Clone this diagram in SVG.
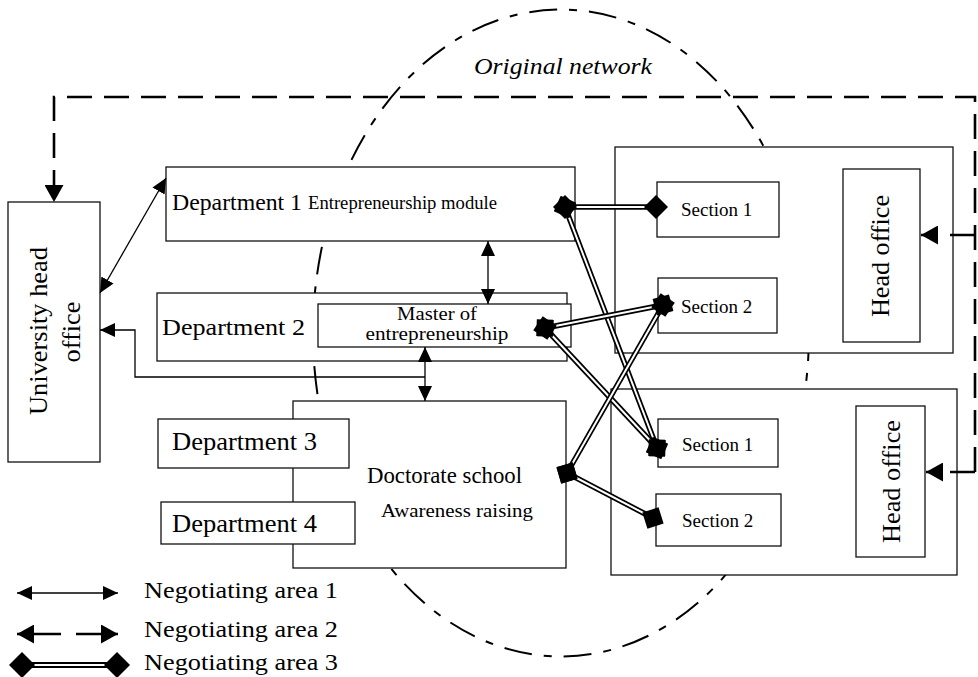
<svg xmlns="http://www.w3.org/2000/svg" width="978" height="677" viewBox="0 0 978 677">
  <style>
    text { font-family: "Liberation Serif", "Times New Roman", serif; fill: #000; }
    .box { fill: #fff; stroke: #111; stroke-width: 1.3; }
    .thin { fill: none; stroke: #000; stroke-width: 1.3; }
    .dash { fill: none; stroke: #000; stroke-width: 2.6; stroke-dasharray: 25 12; }
    .outer { fill: none; stroke: #000; stroke-width: 5.5; }
    .inner { fill: none; stroke: #fff; stroke-width: 2; }
    .ends { fill: none; stroke: none; marker-start: url(#dia); marker-end: url(#dia); }
    .net { fill: none; stroke: #000; stroke-width: 2; stroke-dasharray: 28 12 8 12; }
  </style>
  <defs>
    <marker id="ah" viewBox="0 0 15 14" refX="15" refY="7" markerWidth="15" markerHeight="14" markerUnits="userSpaceOnUse" orient="auto-start-reverse">
      <path d="M0,0 L15,7 L0,14 z" fill="#000"/>
    </marker>
    <marker id="ahd" viewBox="0 0 17 19" refX="17" refY="9.5" markerWidth="17" markerHeight="19" markerUnits="userSpaceOnUse" orient="auto-start-reverse">
      <path d="M0,0 L17,9.5 L0,19 z" fill="#000"/>
    </marker>
    <marker id="dia" viewBox="0 0 24 24" refX="12" refY="12" markerWidth="24" markerHeight="24" markerUnits="userSpaceOnUse" orient="auto">
      <path d="M0,12 L12,0 L24,12 L12,24 z" fill="#000"/>
    </marker>
    <marker id="diaL" viewBox="0 0 26 26" refX="13" refY="13" markerWidth="26" markerHeight="26" markerUnits="userSpaceOnUse" orient="auto">
      <path d="M0,13 L13,0 L26,13 L13,26 z" fill="#000"/>
    </marker>
  </defs>

  <rect width="978" height="677" fill="#fff"/>

  <!-- original network boundary -->
  <g id="original-network">
    <ellipse class="net" cx="561" cy="333" rx="248" ry="323.5"/>
    <text x="474" y="74" font-size="23" font-style="italic" textLength="178" lengthAdjust="spacingAndGlyphs">Original network</text>
  </g>

  <g id="university-head-office">
    <rect class="box" x="8" y="202" width="92" height="260"/>
    <text transform="translate(47,331) rotate(-90)" font-size="25" text-anchor="middle" textLength="168" lengthAdjust="spacingAndGlyphs">University head</text>
    <text transform="translate(80,332) rotate(-90)" font-size="25" text-anchor="middle" textLength="61" lengthAdjust="spacingAndGlyphs">office</text>
  </g>

  <g id="department-1">
    <rect class="box" x="166" y="167" width="409" height="74"/>
    <text x="172" y="210" font-size="23" textLength="130" lengthAdjust="spacingAndGlyphs">Department 1</text>
    <text x="308" y="209" font-size="18" textLength="189" lengthAdjust="spacingAndGlyphs">Entrepreneurship module</text>
  </g>

  <g id="department-2">
    <rect class="box" x="157" y="293" width="410" height="68"/>
    <text x="162" y="335" font-size="24" textLength="143" lengthAdjust="spacingAndGlyphs">Department 2</text>
  </g>

  <g id="master-of-entrepreneurship">
    <rect class="box" x="318" y="304" width="253" height="43"/>
    <text x="437" y="320" font-size="18" text-anchor="middle" textLength="80" lengthAdjust="spacingAndGlyphs">Master of</text>
    <text x="437" y="340" font-size="18" text-anchor="middle" textLength="143" lengthAdjust="spacingAndGlyphs">entrepreneurship</text>
  </g>

  <g id="doctorate-school">
    <rect class="box" x="293" y="401" width="273" height="167"/>
    <text x="367" y="483" font-size="23" textLength="155" lengthAdjust="spacingAndGlyphs">Doctorate school</text>
    <text x="381" y="517" font-size="19" textLength="152" lengthAdjust="spacingAndGlyphs">Awareness raising</text>
  </g>

  <g id="department-3">
    <rect class="box" x="158" y="419" width="191" height="49"/>
    <text x="172" y="450" font-size="25" textLength="145" lengthAdjust="spacingAndGlyphs">Department 3</text>
  </g>

  <g id="department-4">
    <rect class="box" x="161" y="502" width="194" height="42"/>
    <text x="172" y="532" font-size="25" textLength="145" lengthAdjust="spacingAndGlyphs">Department 4</text>
  </g>

  <!-- upper partner organisation -->
  <g id="partner-upper">
    <rect class="box" x="615" y="147" width="338" height="206"/>
  </g>
  <g id="upper-section-1">
    <rect class="box" x="657" y="182" width="122" height="55"/>
    <text x="681" y="216" font-size="19">Section 1</text>
  </g>
  <g id="upper-section-2">
    <rect class="box" x="658" y="278" width="119" height="55"/>
    <text x="681" y="313" font-size="19">Section 2</text>
  </g>
  <g id="upper-head-office">
    <rect class="box" x="843" y="169" width="77" height="173"/>
    <text transform="translate(889,256) rotate(-90)" font-size="25" text-anchor="middle" textLength="122" lengthAdjust="spacingAndGlyphs">Head office</text>
  </g>

  <!-- lower partner organisation -->
  <g id="partner-lower">
    <rect class="box" x="611" y="389" width="346" height="186"/>
  </g>
  <g id="lower-section-1">
    <rect class="box" x="658" y="419" width="120" height="48"/>
    <text x="682" y="451" font-size="19">Section 1</text>
  </g>
  <g id="lower-section-2">
    <rect class="box" x="656" y="494" width="125" height="52"/>
    <text x="682" y="527" font-size="19">Section 2</text>
  </g>
  <g id="lower-head-office">
    <rect class="box" x="856" y="406" width="69" height="151"/>
    <text transform="translate(900,481.5) rotate(-90)" font-size="25" text-anchor="middle" textLength="123" lengthAdjust="spacingAndGlyphs">Head office</text>
  </g>

  <g id="connectors">
    <!-- negotiating area 2: dashed links from the head offices -->
    <path class="dash" d="M975,472 V97 H54 V202" marker-end="url(#ahd)"/>
    <path class="dash" d="M975,235 H921" marker-end="url(#ahd)"/>
    <path class="dash" d="M975,472 H926" marker-end="url(#ahd)"/>

    <!-- negotiating area 1: thin arrows -->
    <path class="thin" d="M100,293 L166,178" marker-start="url(#ah)" marker-end="url(#ah)"/>
    <path class="thin" d="M488,241 V304" marker-start="url(#ah)" marker-end="url(#ah)"/>
    <path class="thin" d="M425,347 V401" marker-start="url(#ah)" marker-end="url(#ah)"/>
    <path class="thin" d="M425,377 H135 V330 H100" marker-end="url(#ah)"/>

    <!-- negotiating area 3: double lines with diamond ends -->
    <path class="outer" d="M565,207 L656,207"/><path class="inner" d="M565,207 L656,207"/>
    <path class="outer" d="M565,207 L657,448"/><path class="inner" d="M565,207 L657,448"/>
    <path class="outer" d="M545,328 L663,305"/><path class="inner" d="M545,328 L663,305"/>
    <path class="outer" d="M545,328 L657,448"/><path class="inner" d="M545,328 L657,448"/>
    <path class="outer" d="M567,473 L663,305"/><path class="inner" d="M567,473 L663,305"/>
    <path class="outer" d="M567,473 L653,518"/><path class="inner" d="M567,473 L653,518"/>
    <path class="ends" d="M565,207 L656,207"/>
    <path class="ends" d="M565,207 L657,448"/>
    <path class="ends" d="M545,328 L663,305"/>
    <path class="ends" d="M545,328 L657,448"/>
    <path class="ends" d="M567,473 L663,305"/>
    <path class="ends" d="M567,473 L653,518"/>
  </g>

  <!-- legend -->
  <g id="legend">
    <path class="thin" d="M17,593 H118" marker-start="url(#ah)" marker-end="url(#ah)"/>
    <text x="144" y="598" font-size="24" textLength="194" lengthAdjust="spacingAndGlyphs">Negotiating area 1</text>
    <path d="M17,634 H118" fill="none" stroke="#000" stroke-width="2.6" stroke-dasharray="44 15 60" marker-start="url(#ahd)" marker-end="url(#ahd)"/>
    <text x="144" y="637" font-size="24" textLength="194" lengthAdjust="spacingAndGlyphs">Negotiating area 2</text>
    <path d="M22,665 H117" fill="none" stroke="#000" stroke-width="6"/>
    <path d="M22,665 H117" fill="none" stroke="#fff" stroke-width="2.2"/>
    <path d="M22,665 H117" fill="none" stroke="none" marker-start="url(#diaL)" marker-end="url(#diaL)"/>
    <text x="144" y="670" font-size="24" textLength="194" lengthAdjust="spacingAndGlyphs">Negotiating area 3</text>
  </g>
</svg>
